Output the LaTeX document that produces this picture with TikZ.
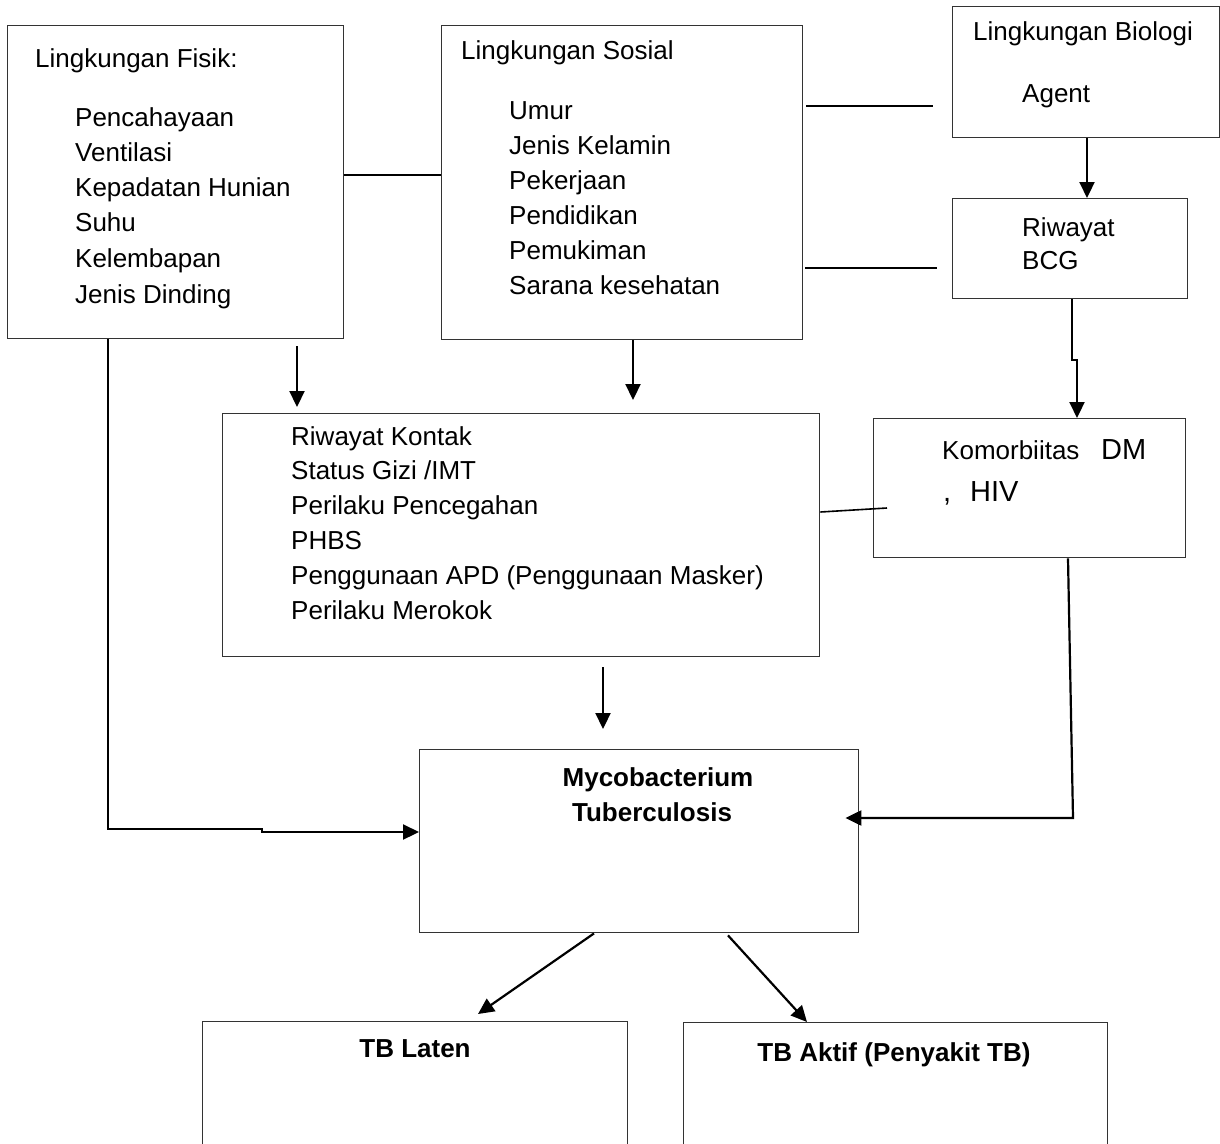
\documentclass[tikz,border=0pt]{standalone}
\usepackage{fontspec}
\setmainfont{Liberation Sans}
\usetikzlibrary{arrows.meta}
\begin{document}
\begin{tikzpicture}[x=1pt,y=-1pt,
 box/.style={draw=black!80, line width=1.4pt, anchor=north west, inner sep=0pt},
 txt/.style={anchor=base west, inner sep=0pt, font=\fontsize{26}{31}\selectfont},
 big/.style={anchor=base west, inner sep=0pt, font=\fontsize{29}{34}\selectfont},
 btxt/.style={anchor=base, inner sep=0pt, font=\fontsize{26}{31}\selectfont\bfseries},
 conn/.style={line width=2.2pt, black},
 arr/.style={conn, -{Triangle[length=16pt,width=15pt]}},
]
\clip (0,0) rectangle (1220,1143);
\useasboundingbox (0,0) rectangle (1220,1143);
\fill[white] (0,0) rectangle (1220,1143);

% boxes
\node[box, minimum width=336pt, minimum height=313pt] (fisik) at (7,25) {};
\node[box, minimum width=361pt, minimum height=314pt] (sosial) at (441,25) {};
\node[box, minimum width=267pt, minimum height=131pt] (bio) at (952,6) {};
\node[box, minimum width=235pt, minimum height=100pt] (bcg) at (952,198) {};
\node[box, minimum width=597pt, minimum height=243pt] (mid) at (222,413) {};
\node[box, minimum width=312pt, minimum height=139pt] (kom) at (873,418) {};
\node[box, minimum width=439pt, minimum height=183pt] (myco) at (419,749) {};
\node[box, minimum width=425pt, minimum height=160pt] (lat) at (202,1021) {};
\node[box, minimum width=424pt, minimum height=160pt] (akt) at (683,1022) {};

% texts: fisik
\node[txt] (f0) at (35,67) {Lingkungan Fisik:};
\node[txt] (f1) at (75,126) {Pencahayaan};
\node[txt] (f2) at (75,161) {Ventilasi};
\node[txt] (f3) at (75,196) {Kepadatan Hunian};
\node[txt] (f4) at (75,231) {Suhu};
\node[txt] (f5) at (75,267) {Kelembapan};
\node[txt] (f6) at (75,303) {Jenis Dinding};
% sosial
\node[txt] (s0) at (461,59) {Lingkungan Sosial};
\node[txt] (s1) at (509,119) {Umur};
\node[txt] (s2) at (509,154) {Jenis Kelamin};
\node[txt] (s3) at (509,189) {Pekerjaan};
\node[txt] (s4) at (509,224) {Pendidikan};
\node[txt] (s5) at (509,259) {Pemukiman};
\node[txt] (s6) at (509,294) {Sarana kesehatan};
% biologi
\node[txt] (b0) at (973,40) {Lingkungan Biologi};
\node[txt] (b1) at (1022,102) {Agent};
% bcg
\node[txt] (c0) at (1022,236) {Riwayat};
\node[txt] (c1) at (1022,269) {BCG};
% middle
\node[txt] (m1) at (291,445) {Riwayat Kontak};
\node[txt] (m2) at (291,479) {Status Gizi /IMT};
\node[txt] (m3) at (291,514) {Perilaku Pencegahan};
\node[txt] (m4) at (291,549) {PHBS};
\node[txt] (m5) at (291,584) {Penggunaan APD (Penggunaan Masker)};
\node[txt] (m6) at (291,619) {Perilaku Merokok};
% komorbiditas
\node[txt] (k0) at (942,459) {Komorbiitas};
\node[big] (k1) at (1101,459) {DM};
\node[big] (k2) at (943,501) {,};
\node[big] (k3) at (970,501) {HIV};
% bold
\node[btxt] (y0) at (658,786) {Mycobacterium};
\node[btxt] (y1) at (652,821) {Tuberculosis};
\node[btxt] (l0) at (415,1057) {TB Laten};
\node[btxt] (a0) at (894,1061) {TB Aktif (Penyakit TB)};

% helper coordinates
\coordinate (sb) at (933,106);
\coordinate (sbc) at (937,268);
\coordinate (fa) at (297,0);
\coordinate (sa) at (633,0);
\coordinate (bb) at (1087,0);
\coordinate (bk1) at (1072,360);
\coordinate (bk2) at (1077,360);
\coordinate (mk) at (887,508);
\coordinate (mm) at (603,0);
\coordinate (fl) at (108,829);
\coordinate (fl2) at (262,829);
\coordinate (fl3) at (262,832);
\coordinate (kx) at (1068,0);
\coordinate (kc) at (1073,818);
\coordinate (ml) at (594,0);
\coordinate (ml2) at (478,1014);
\coordinate (mr) at (728,0);
\coordinate (mr2) at (807,1022);

% connectors
\draw[conn] ([yshift=-150pt]fisik.north east) -- ([yshift=-150pt]sosial.north west);
\draw[conn] ([xshift=3pt]sosial.east |- sb) -- (sb);
\draw[conn] ([xshift=2pt]sosial.east |- sbc) -- (sbc);
\draw[arr, shorten <=7pt, shorten >=6pt] (fisik.south -| fa) -- (mid.north -| fa);
\draw[arr, shorten >=13pt] (sosial.south -| sa) -- (mid.north -| sa);
\draw[arr] (bio.south -| bb) -- (bcg.north -| bb);
\draw[arr] (bcg.south -| bk1) -- (bk1) -- (bk2) -- (kom.north -| bk2);
\draw[conn, line width=1.6pt] ([yshift=-99pt]mid.north east) -- (mk);
\draw[arr, shorten <=10pt, shorten >=20pt] (mid.south -| mm) -- (myco.north -| mm);
\draw[arr] (fisik.south -| fl) -- (fl) -- (fl2) -- (fl3) -- (myco.west |- fl3);
\draw[arr, shorten >=-14pt] (kom.south -| kx) -- (kc) -- (myco.east |- kc);
\draw[arr] (myco.south -| ml) -- (ml2);
\draw[arr] ([yshift=-2pt]myco.south -| mr) -- (mr2);
\end{tikzpicture}
\end{document}
